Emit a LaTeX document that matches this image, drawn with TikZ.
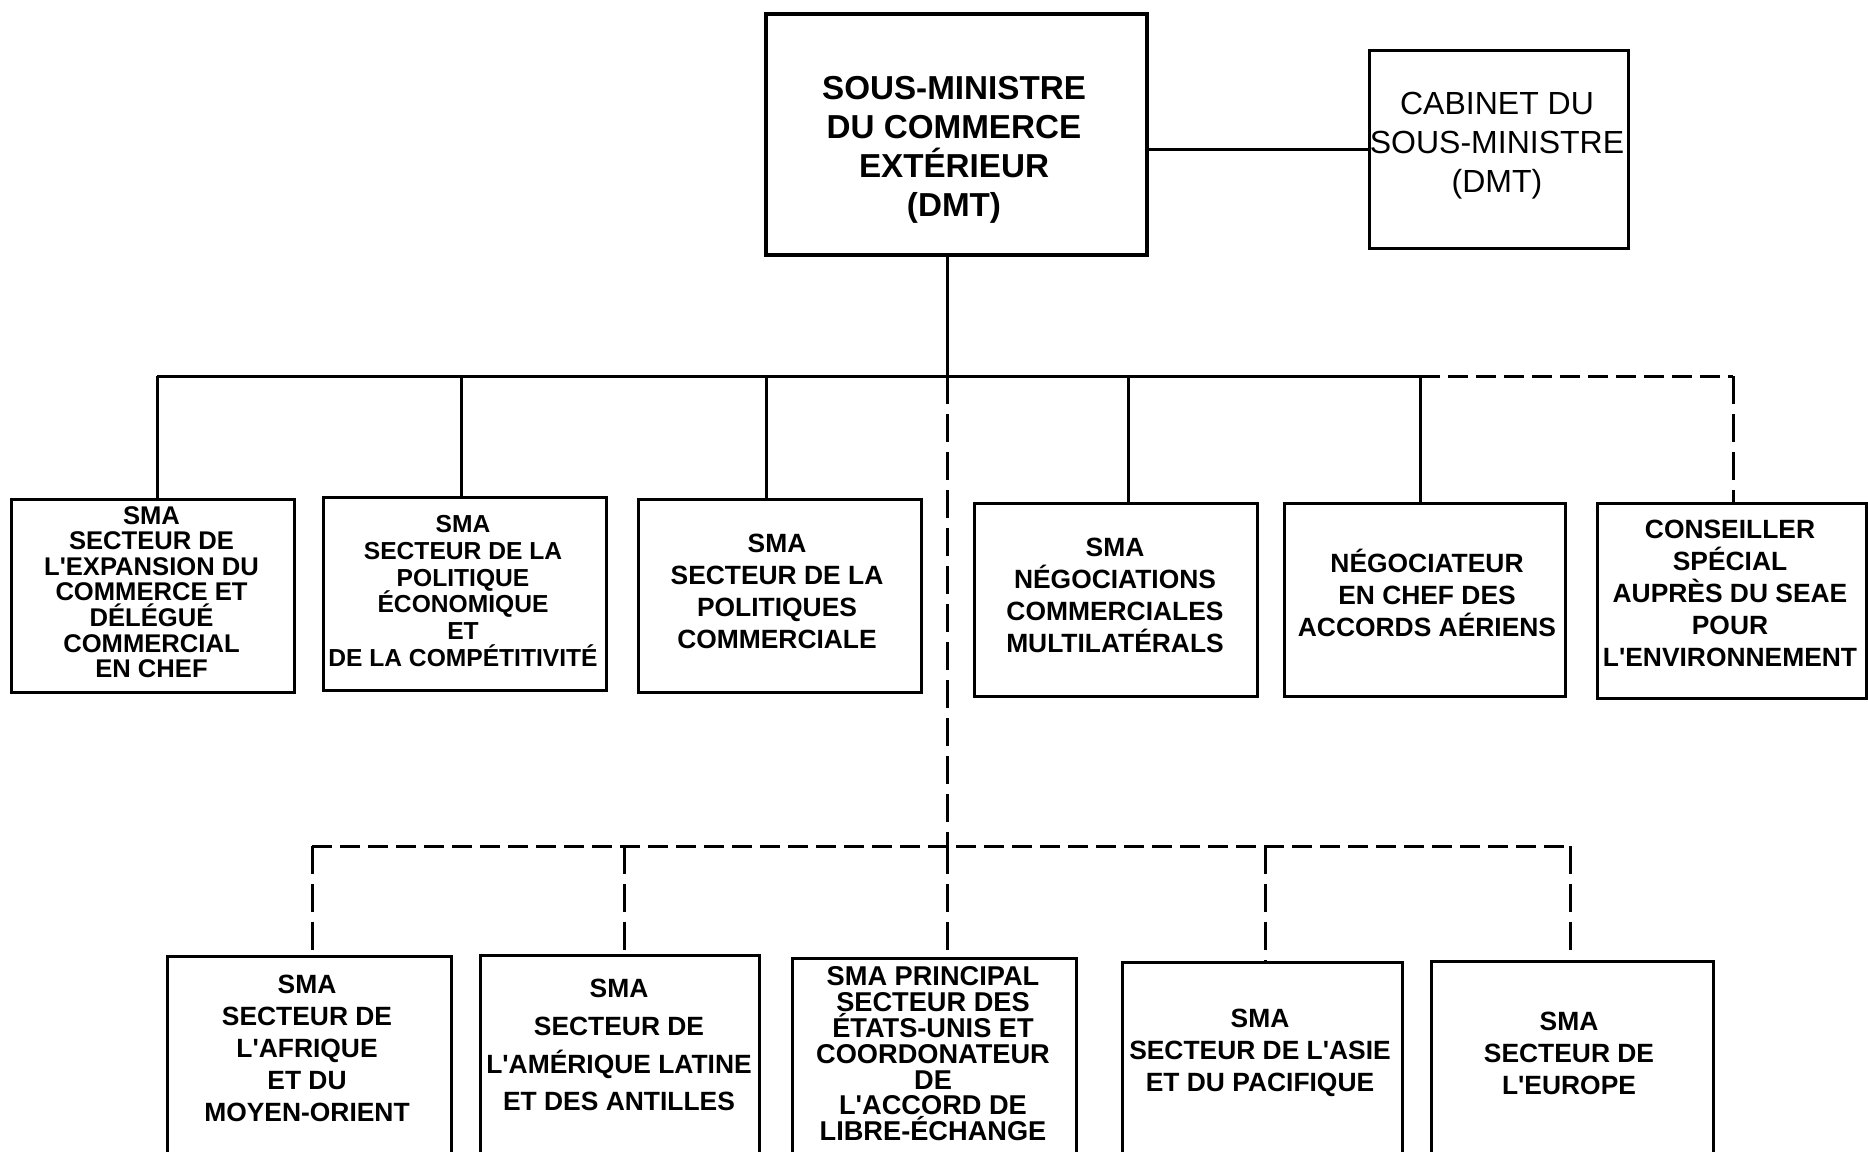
\documentclass[tikz,border=0pt]{standalone}
\usepackage{fontspec}
\setmainfont{Liberation Sans}
\newcommand{\apo}{\textquotesingle}
\begin{document}
\begin{tikzpicture}[x=0.5pt,y=-0.5pt,
  box/.style={draw, line width=1.7pt, anchor=north west, inner sep=0pt},
  conn/.style={line width=1.5pt},
  hdash/.style={conn, dash pattern=on 10pt off 4pt},
  vdash/.style={conn, dash pattern=on 14pt off 5pt},
  txt/.style={align=center, inner sep=0pt},
  bigb/.style={txt, font=\fontsize{16.6}{19.5}\selectfont\bfseries},
  bigr/.style={txt, font=\fontsize{16}{19.5}\selectfont},
  tight/.style={txt, font=\fontsize{12.8}{12.8}\selectfont\bfseries},
  mid/.style={txt, font=\fontsize{13.2}{16}\selectfont\bfseries},
]
\useasboundingbox (0,0) rectangle (1868,1151);
\clip (0,0) rectangle (1868,1151);
\fill[white] (0,0) rectangle (1868,1151);

% top level
\node[box, line width=2pt, minimum width=190.5pt, minimum height=120.5pt] (top) at (764,12) {};
\node[bigb] (ttop) at (954,150) {SOUS-MINISTRE\\DU COMMERCE\\EXTÉRIEUR\\(DMT)};
\node[box, minimum width=129.5pt, minimum height=99pt] (cab) at (1368,49) {};
\node[bigr] (tcab) at (1497,146) {CABINET DU\\SOUS-MINISTRE\\(DMT)};

% level 2
\node[box, minimum width=141.5pt, minimum height=96.5pt] (b1) at (10,498) {};
\node[box, minimum width=141.5pt, minimum height=96.5pt] (b2) at (322,496) {};
\node[box, minimum width=141.5pt, minimum height=96.5pt] (b3) at (637,498) {};
\node[box, minimum width=141.5pt, minimum height=96.5pt] (b4) at (973,502) {};
\node[box, minimum width=140.5pt, minimum height=96.5pt] (b5) at (1283,502) {};
\node[box, minimum width=134.5pt, minimum height=97.5pt] (b6) at (1596,502) {};

\node[tight] (t1) at (151.5,592) {SMA\\SECTEUR DE\\L\apo EXPANSION DU\\COMMERCE ET\\DÉLÉGUÉ\\COMMERCIAL\\EN CHEF};
\node[txt, font=\fontsize{12.3}{13.4}\selectfont\bfseries] (t2) at (463,591) {SMA\\SECTEUR DE LA\\POLITIQUE\\ÉCONOMIQUE\\ET\\DE LA COMPÉTITIVITÉ};
\node[mid] (t3) at (777,591.5) {SMA\\SECTEUR DE LA\\POLITIQUES\\COMMERCIALE};
\node[mid] (t4) at (1115,595) {SMA\\NÉGOCIATIONS\\COMMERCIALES\\MULTILATÉRALS};
\node[mid] (t5) at (1427,593) {NÉGOCIATEUR\\EN CHEF DES\\ACCORDS AÉRIENS};
\node[mid] (t6) at (1730,593) {CONSEILLER\\SPÉCIAL\\AUPRÈS DU SEAE\\POUR\\L\apo ENVIRONNEMENT};

% level 3
\node[box, minimum width=142pt, minimum height=122.5pt] (b7) at (166,955) {};
\node[box, minimum width=139.5pt, minimum height=122.5pt] (b8) at (479,954) {};
\node[box, minimum width=142pt, minimum height=122.5pt] (b9) at (791,957) {};
\node[box, minimum width=140pt, minimum height=122.5pt] (b10) at (1121,961) {};
\node[box, minimum width=141pt, minimum height=122.5pt] (b11) at (1430,960) {};

\node[mid] (t7) at (307,1048) {SMA\\SECTEUR DE\\L\apo AFRIQUE\\ET DU\\MOYEN-ORIENT};
\node[txt, font=\fontsize{13.2}{18.9}\selectfont\bfseries] (t8) at (619,1045) {SMA\\SECTEUR DE\\L\apo AMÉRIQUE LATINE\\ET DES ANTILLES};
\node[txt, font=\fontsize{13.6}{12.9}\selectfont\bfseries] (t9) at (933,1054) {SMA PRINCIPAL\\SECTEUR DES\\ÉTATS-UNIS ET\\COORDONATEUR\\DE\\L\apo ACCORD DE\\LIBRE-ÉCHANGE};
\node[mid] (t10) at (1260,1053) {SMA\\SECTEUR DE L\apo ASIE\\ET DU PACIFIQUE};
\node[mid] (t11) at (1569,1053) {SMA\\SECTEUR DE\\L\apo EUROPE};

% junction coordinates
\coordinate (j1) at (947,376);
\coordinate (j2) at (947,846);
\coordinate (d1) at (157,376);
\coordinate (d2) at (461,376);
\coordinate (d3) at (766,376);
\coordinate (d4) at (1128,376);
\coordinate (d5) at (1420,376);
\coordinate (d6) at (1733,376);
\coordinate (e1) at (312,846);
\coordinate (e2) at (624,846);
\coordinate (e4) at (1265,846);
\coordinate (e5) at (1570,846);

% connectors
\draw[conn] (top.east |- cab.west) -- (cab.west);
\draw[conn] (j1 |- top.south) -- (j1);
\draw[conn] (d1) -- (d5);
\draw[conn] (d1) -- (d1 |- b1.north);
\draw[conn] (d2) -- (d2 |- b2.north);
\draw[conn] (d3) -- (d3 |- b3.north);
\draw[conn] (d4) -- (d4 |- b4.north);
\draw[conn] (d5) -- (d5 |- b5.north);
\draw[hdash] (d5) -- (d6);
\draw[vdash] (d6) -- (d6 |- b6.north);
\draw[vdash] (j1) -- (j2);
\draw[hdash] (e1) -- (e5);
\draw[vdash] (e1) -- (e1 |- b7.north);
\draw[vdash] (e2) -- (e2 |- b8.north);
\draw[vdash] (j2) -- (j2 |- b9.north);
\draw[vdash] (e4) -- (e4 |- b10.north);
\draw[vdash] (e5) -- (e5 |- b11.north);
\end{tikzpicture}
\end{document}
